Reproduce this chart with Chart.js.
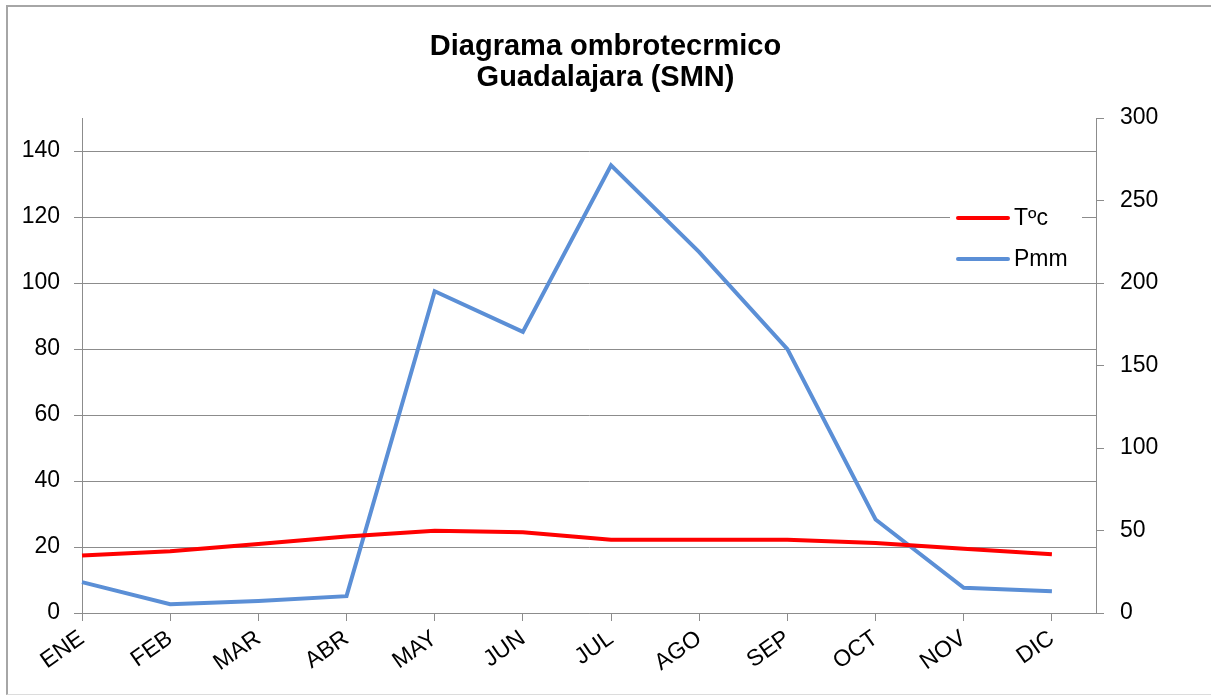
<!DOCTYPE html>
<html>
<head>
<meta charset="utf-8">
<script src="https://cdn.jsdelivr.net/npm/chart.js@4"></script>
<style>
  html, body { margin: 0; padding: 0; background: #fff; }
  #wrap { position: relative; width: 1211px; height: 696px; overflow: hidden; }
  #frame { position: absolute; left: 6px; top: 5px; right: 0; bottom: 1px;
           border-top: 2px solid #a6a6a6; border-left: 2px solid #a6a6a6;
           border-bottom: 1px solid #dcdcdc; pointer-events: none; }
  canvas { position: absolute; left: 0; top: 0; }
</style>
</head>
<body>
<div id="wrap">
  <canvas id="ombro" width="1211" height="696"></canvas>
  <div id="frame"></div>
</div>
<script>
/* diagrama ombrotérmico — temperatura (eje izq.) y precipitación (eje der.) */

const months = ["ENE", "FEB", "MAR", "ABR", "MAY", "JUN", "JUL", "AGO", "SEP", "OCT", "NOV", "DIC"];
const tempC = [17.4, 18.7, 20.9, 23.2, 24.9, 24.5, 22.2, 22.2, 22.2, 21.2, 19.5, 17.8];
const precipMm = [18.7, 5.3, 7.2, 10.2, 195.0, 170.4, 271.3, 218.7, 160.0, 56.7, 15.3, 13.2];
const seriesNames = ["T\u00bac", "Pmm"];
const titleLines = ["Diagrama ombrotecrmico", "Guadalajara (SMN)"];

const RED = "#ff0000";
const BLUE = "#5b8fd6";
const GRID = "#8c8c8c";
const FONT = "'Liberation Sans', Arial, sans-serif";

const toXY = arr => arr.map((v, i) => ({ x: i, y: v }));

// legend drawn inside the plot, like the Excel original
const boxLegend = {
  id: "boxLegend",
  afterDraw(chart) {
    const { ctx, chartArea } = chart;
    const x0 = chartArea.right - 138;
    const y0 = chartArea.top + 100;
    ctx.save();
    ctx.fillStyle = "#fff";
    ctx.fillRect(x0 - 8, y0 - 22, 132, 84);
    chart.data.datasets.forEach((ds, i) => {
      const y = y0 + i * 41;
      ctx.strokeStyle = ds.borderColor;
      ctx.lineWidth = 4;
      ctx.lineCap = "round";
      ctx.beginPath();
      ctx.moveTo(x0, y);
      ctx.lineTo(x0 + 50, y);
      ctx.stroke();
      ctx.fillStyle = "#000";
      ctx.font = "23px " + FONT;
      ctx.textBaseline = "middle";
      ctx.fillText(ds.label, x0 + 56, y + 1);
    });
    ctx.restore();
  }
};

new Chart(document.getElementById("ombro"), {
  type: "line",
  data: {
    datasets: [
      { label: seriesNames[0], data: toXY(tempC), yAxisID: "yT",
        borderColor: RED, borderWidth: 4, pointRadius: 0, tension: 0, clip: false },
      { label: seriesNames[1], data: toXY(precipMm), yAxisID: "yP",
        borderColor: BLUE, borderWidth: 4, pointRadius: 0, tension: 0, clip: false }
    ]
  },
  options: {
    responsive: false,
    animation: false,
    layout: { padding: { left: 8, right: 8, top: 0, bottom: 8 } },
    plugins: {
      legend: { display: false },
      tooltip: { enabled: false },
      title: {
        display: true,
        text: titleLines,
        color: "#000",
        font: { family: FONT, size: 29, weight: "bold", lineHeight: 1.07 },
        padding: { top: 31, bottom: 25 }
      }
    },
    scales: {
      x: {
        type: "linear",
        min: 0,
        max: 11.5,
        afterFit(s) { s.height = 75; },
        ticks: {
          stepSize: 1,
          includeBounds: false,
          autoSkip: false,
          minRotation: 35,
          maxRotation: 35,
          padding: 4,
          color: "#000",
          font: { family: FONT, size: 23 },
          callback: v => months[v] ?? ""
        },
        grid: { drawOnChartArea: false, drawTicks: true, tickLength: 8, color: GRID },
        border: { display: true, color: GRID }
      },
      yT: {
        position: "left",
        min: 0,
        max: 150,
        afterFit(s) { s.width = 74; },
        ticks: {
          stepSize: 20,
          includeBounds: false,
          padding: 14,
          color: "#000",
          font: { family: FONT, size: 23 }
        },
        grid: { color: GRID, tickLength: 8 },
        border: { display: true, color: GRID }
      },
      yP: {
        position: "right",
        min: 0,
        max: 300,
        afterFit(s) { s.width = 107; },
        ticks: {
          stepSize: 50,
          padding: 16,
          color: "#000",
          font: { family: FONT, size: 23 }
        },
        grid: { drawOnChartArea: false, color: GRID, tickLength: 8 },
        border: { display: true, color: GRID }
      }
    }
  },
  plugins: [boxLegend]
});
</script>
</body>
</html>
